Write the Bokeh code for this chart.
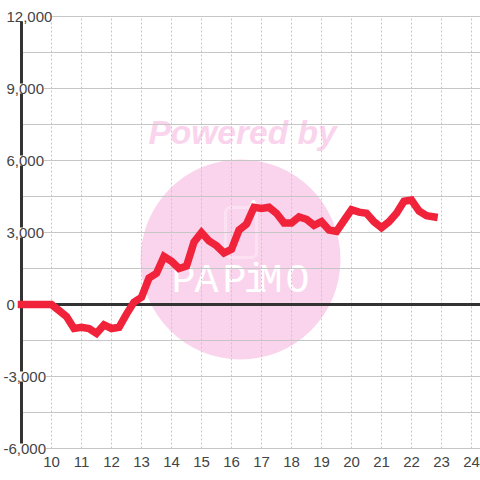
from bokeh.embed import file_html
from bokeh.resources import INLINE
from bokeh.plotting import figure
from bokeh.models import Label, FixedTicker, Range1d, BoxAnnotation

x_ticks = list(range(10, 25))
y_labels = {12000: "12,000", 9000: "9,000", 6000: "6,000", 3000: "3,000", 0: "0", -3000: "-3,000", -6000: "-6,000"}
y_grid = [12000 - 1500 * i for i in range(13)]
xs = [9, 10, 10.25, 10.5, 10.75, 11, 11.25, 11.5, 11.75, 12, 12.25, 12.5, 12.75, 13, 13.25, 13.5, 13.75,
      14, 14.25, 14.5, 14.75, 15, 15.25, 15.5, 15.75, 16, 16.25, 16.5, 16.75, 17, 17.25, 17.5, 17.75,
      18, 18.25, 18.5, 18.75, 19, 19.25, 19.5, 19.75, 20, 20.25, 20.5, 20.75, 21, 21.25, 21.5, 21.75,
      22, 22.25, 22.5, 22.75]
ys = [0, 0, -250, -500, -1000, -950, -1000, -1200, -850, -1000, -950, -400, 100, 300, 1100, 1300, 2000,
      1800, 1500, 1600, 2600, 3000, 2650, 2450, 2150, 2300, 3100, 3350, 4050, 4000, 4050, 3800, 3400,
      3400, 3650, 3550, 3300, 3450, 3100, 3050, 3500, 3950, 3850, 3800, 3450, 3200, 3450, 3800, 4300,
      4350, 3900, 3700, 3650]

XPX, YPX = 30.0, 0.024
AX_LEFT = 21
ZERO_PX = 304
W, H, FRAME_H = 480, 480, 456
X0 = 9 - AX_LEFT / XPX
X1 = X0 + W / XPX
YTOP = ZERO_PX / YPX
YBOT = (ZERO_PX - FRAME_H) / YPX


def dx(px):
    return X0 + px / XPX


def dy(py):
    return (ZERO_PX - py) / YPX


p = figure(width=W, height=H, frame_width=W, frame_height=FRAME_H, output_backend="svg", toolbar_location=None,
           x_range=Range1d(X0, X1), y_range=Range1d(YBOT, YTOP),
           min_border_left=0, min_border_right=0, min_border_top=0, min_border_bottom=0,
           outline_line_color=None)

p.yaxis.visible = False
p.xaxis.ticker = FixedTicker(ticks=x_ticks)
p.xaxis.axis_line_color = None
p.xaxis.major_tick_line_color = None
p.xaxis.minor_tick_line_color = None
p.xaxis.major_label_text_font = "Liberation Sans"
p.xaxis.major_label_text_font_size = "15px"
p.xaxis.major_label_text_color = "#444444"
p.xaxis.major_label_standoff = -6
p.grid.visible = False

GRID = "#c6c6c6"
y_top, y_bot = max(y_grid), min(y_grid)
p.segment(x_ticks, [y_bot] * len(x_ticks), x_ticks, [y_top] * len(x_ticks), line_color=GRID, line_width=1,
          line_dash="2 2", level="underlay")
p.segment([9] * len(y_grid), y_grid, [X1] * len(y_grid), y_grid, line_color=GRID, line_width=1, level="underlay")

PINK = "#fad4ec"
p.scatter([dx(240)], [dy(259)], size=200, marker="circle", fill_color=PINK, line_color=None, level="image")
p.add_layout(Label(x=dx(148), y=dy(150), text="Powered by", text_font="Liberation Sans", text_font_size="33.5px",
                   text_font_style="bold italic", text_color=PINK, level="image"))
p.add_layout(BoxAnnotation(left=dx(225), right=dx(256), top=dy(207), bottom=dy(257), fill_color=None,
                           line_color="white", line_width=3, border_radius=5, level="image"))
p.line([dx(250), dx(253), dx(256)], [dy(206), dy(200), dy(206)], line_color="white", line_width=2.5, level="image")
for px, ch in zip([171, 194, 222, 243, 258, 285], "PAPiMO"):
    p.add_layout(Label(x=dx(px), y=dy(303), text=ch, text_font="Liberation Mono", text_font_size="40px",
                       text_color="white", level="image"))

p.segment([9], [y_bot], [9], [y_top], line_color="#333333", line_width=3, level="guide")
p.segment([9], [0], [X1], [0], line_color="#333333", line_width=3, level="guide")

p.line(xs, ys, line_color="#f0233b", line_width=7.5, line_cap="square", line_join="miter", level="overlay")

for val, txt in y_labels.items():
    off = -18 if val < 0 else (-15)
    p.add_layout(Label(x=9, y=val, x_offset=off, text=txt, text_font="Liberation Sans", text_font_size="15px",
                       text_color="#444444", text_baseline="middle", text_align="left",
                       background_fill_color="white"))

open("out.html", "w").write(file_html(p, INLINE))
